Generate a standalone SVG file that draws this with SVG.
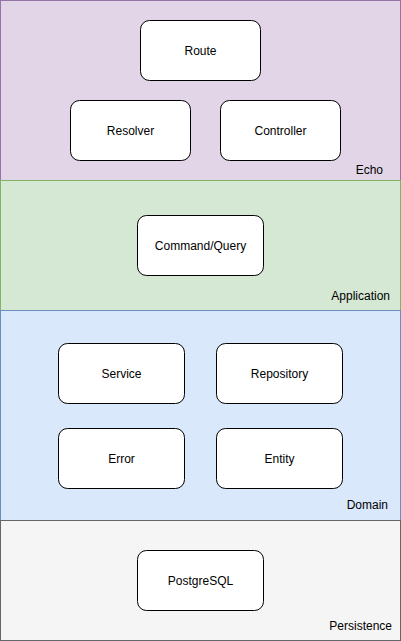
<svg xmlns="http://www.w3.org/2000/svg" width="401" height="641" viewBox="0 0 401 641">
<style>
.layer{stroke-width:1}
.node rect{fill:#ffffff;stroke:#000000;stroke-width:1}
text{font-family:"Liberation Sans",Arial,sans-serif;font-size:12px;fill:#000000}
.c{text-anchor:middle;dominant-baseline:central}
.r{text-anchor:end}
</style>
<g id="layer-echo">
<rect class="layer" x="0.5" y="0.5" width="400" height="180" fill="#e1d5e7" stroke="#9673a6"/>
<text class="r" x="383" y="174">Echo</text>
</g>
<g id="layer-application">
<rect class="layer" x="0.5" y="180.5" width="400" height="130" fill="#d5e8d4" stroke="#82b366"/>
<text class="r" x="390" y="300">Application</text>
</g>
<g id="layer-domain">
<rect class="layer" x="0.5" y="310.5" width="400" height="210" fill="#dae8fc" stroke="#6c8ebf"/>
<text class="r" x="388" y="509">Domain</text>
</g>
<g id="layer-persistence">
<rect class="layer" x="0.5" y="520.5" width="400" height="120" fill="#f5f5f5" stroke="#666666"/>
<text class="r" x="392" y="630">Persistence</text>
</g>
<g id="route" class="node"><rect x="140.5" y="20.5" width="120" height="60" rx="9"/><text class="c" x="200.5" y="50.5">Route</text></g>
<g id="resolver" class="node"><rect x="70.5" y="100.5" width="120" height="60" rx="9"/><text class="c" x="130.5" y="130.5">Resolver</text></g>
<g id="controller" class="node"><rect x="220.5" y="100.5" width="120" height="60" rx="9"/><text class="c" x="280.5" y="130.5">Controller</text></g>
<g id="command-query" class="node"><rect x="137.5" y="215.5" width="126" height="60" rx="9"/><text class="c" x="200.5" y="245.5">Command/Query</text></g>
<g id="service" class="node"><rect x="58.5" y="343.5" width="126" height="60" rx="9"/><text class="c" x="121.5" y="373.5">Service</text></g>
<g id="repository" class="node"><rect x="216.5" y="343.5" width="126" height="60" rx="9"/><text class="c" x="279.5" y="373.5">Repository</text></g>
<g id="error" class="node"><rect x="58.5" y="428.5" width="126" height="60" rx="9"/><text class="c" x="121.5" y="458.5">Error</text></g>
<g id="entity" class="node"><rect x="216.5" y="428.5" width="126" height="60" rx="9"/><text class="c" x="279.5" y="458.5">Entity</text></g>
<g id="postgresql" class="node"><rect x="137.5" y="550.5" width="126" height="60" rx="9"/><text class="c" x="200.5" y="580.5">PostgreSQL</text></g>
<g id="connectors"></g>
</svg>
